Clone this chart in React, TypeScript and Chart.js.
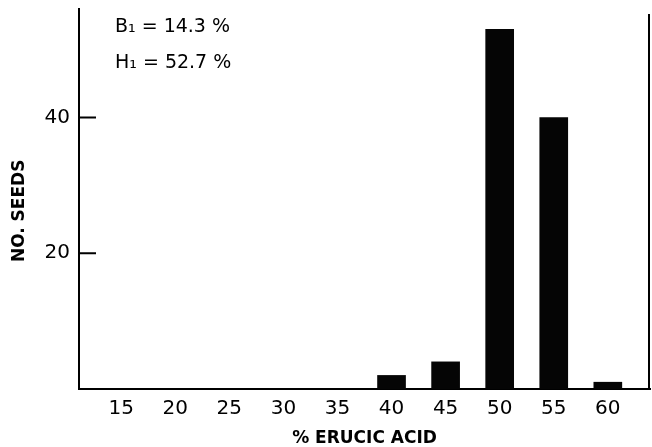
import { useEffect, useRef } from 'react';
import { Chart, registerables } from 'chart.js';

Chart.register(...registerables);

// Data
const acidCategories = [15, 20, 25, 30, 35, 40, 45, 50, 55, 60];
const seedCounts = [0, 0, 0, 0, 0, 2, 4, 53, 40, 1];
const xTickValues = [15, 20, 25, 30, 35, 40, 45, 50, 55, 60];
const yTickValues = [20, 40];
const annotationLines = ['B\u2081 = 14.3 %', 'H\u2081 = 52.7 %'];
const xTitle = '% ERUCIC ACID';
const yTitle = 'NO. SEEDS';

const X_MIN = 11.1;
const X_MAX = 63.9;
const Y_MAX = 56;

const FONT = "'DejaVu Sans', 'Liberation Sans', sans-serif";

const framePlugin = {
  id: 'framePlugin',
  afterDraw(chart: any) {
    const { ctx, chartArea, scales } = chart;
    const { left, right, top, bottom } = chartArea;
    const y = scales.y;
    ctx.save();
    ctx.strokeStyle = '#000';
    ctx.lineWidth = 2;
    ctx.beginPath();
    ctx.moveTo(right - 1, top + 5);
    ctx.lineTo(right - 1, bottom);
    yTickValues.forEach((v) => {
      const py = y.getPixelForValue(v);
      ctx.moveTo(left, py);
      ctx.lineTo(left + 17, py);
    });
    ctx.stroke();
    ctx.fillStyle = '#000';
    ctx.font = `19px ${FONT}`;
    ctx.textBaseline = 'alphabetic';
    ctx.textAlign = 'left';
    annotationLines.forEach((t, i) => {
      ctx.fillText(t, left + 36, top + 23 + i * 36);
    });
    ctx.restore();
  },
};

export default function App() {
  const ref = useRef<HTMLCanvasElement | null>(null);

  useEffect(() => {
    if (!ref.current) return;
    const chart = new Chart(ref.current, {
      type: 'bar',
      data: {
        datasets: [
          {
            data: acidCategories.map((c, i) => ({ x: c, y: seedCounts[i] })),
            backgroundColor: '#050505',
            borderWidth: 0,
            barThickness: 28,
          },
        ],
      },
      options: {
        animation: false,
        responsive: true,
        maintainAspectRatio: false,
        layout: { padding: { top: 9, right: 2, left: 0, bottom: 0 } },
        plugins: {
          legend: { display: false },
          tooltip: { enabled: false },
        },
        scales: {
          x: {
            type: 'linear',
            offset: false,
            min: X_MIN,
            max: X_MAX,
            afterBuildTicks: (scale: any) => {
              scale.ticks = xTickValues.map((v) => ({ value: v }));
            },
            afterFit: (scale: any) => {
              scale.height = 58;
              scale.paddingLeft = 0;
              scale.paddingRight = 0;
            },
            grid: { display: false, drawTicks: false, offset: false },
            border: { display: true, color: '#000', width: 2 },
            ticks: {
              color: '#000',
              font: { family: FONT, size: 20 },
              padding: 8,
              maxRotation: 0,
              autoSkip: false,
            },
            title: {
              display: true,
              text: xTitle,
              color: '#000',
              font: { family: FONT, size: 17, weight: 'bold', lineHeight: 1 },
              padding: { top: 0, bottom: 0 },
            },
          },
          y: {
            min: 0,
            max: Y_MAX,
            afterBuildTicks: (scale: any) => {
              scale.ticks = yTickValues.map((v) => ({ value: v }));
            },
            afterFit: (scale: any) => {
              scale.width = 79;
              scale.paddingTop = 0;
              scale.paddingBottom = 0;
            },
            grid: { display: false, drawTicks: false },
            border: { display: true, color: '#000', width: 2 },
            ticks: {
              color: '#000',
              font: { family: FONT, size: 20 },
              padding: 9,
            },
            title: {
              display: true,
              text: yTitle + '    ',
              color: '#000',
              font: { family: FONT, size: 17, weight: 'bold', lineHeight: 1 },
              padding: { top: 11, bottom: 0 },
            },
          },
        },
      },
      plugins: [framePlugin],
    });
    return () => chart.destroy();
  }, []);

  return (
    <div style={{ position: 'absolute', left: 0, top: 0, width: 652, height: 447 }}>
      <canvas ref={ref} />
    </div>
  );
}
